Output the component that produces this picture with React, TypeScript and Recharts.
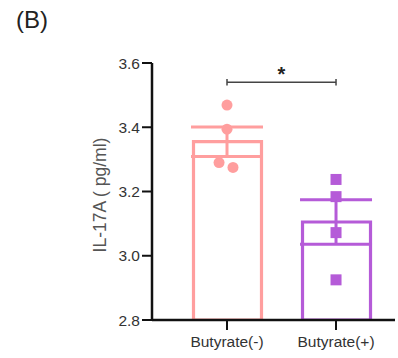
import React from 'react';
import {
  ComposedChart,
  Bar,
  Cell,
  Scatter,
  ErrorBar,
  XAxis,
  YAxis,
  ReferenceLine,
  ReferenceDot,
} from 'recharts';

const categories = ['Butyrate(-)', 'Butyrate(+)'];
const means = [3.355, 3.105];
const sems = [0.046, 0.069];
const yTicks = [2.8, 3.0, 3.2, 3.4, 3.6];

// individual samples (x = group position incl. jitter)
const minusPoints = [
  { x: 1, y: 3.469 },
  { x: 1, y: 3.394 },
  { x: 0.927, y: 3.29 },
  { x: 1.055, y: 3.275 },
];
const plusPoints = [
  { x: 2, y: 3.2375 },
  { x: 2, y: 3.184 },
  { x: 2, y: 3.072 },
  { x: 2, y: 2.925 },
];

const PINK = '#FF9E9E';
const PURPLE = '#B55BD8';
const FONT = '"Liberation Sans", Arial, sans-serif';
const X_DOMAIN = [0.312, 2.541];

const barData = categories.map((name, i) => ({ x: i + 1, name, mean: means[i] }));
const minusMean = [{ x: 1, y: means[0], err: sems[0] }];
const plusMean = [{ x: 2, y: means[1], err: sems[1] }];

const Dot = (props: any) => <circle cx={props.cx} cy={props.cy} r={5.5} fill={PINK} />;
const Square = (props: any) => (
  <rect x={props.cx - 5.5} y={props.cy - 5.5} width={11} height={11} fill={PURPLE} />
);
const Empty = () => <g />;

const YLabel = () => (
  <text
    x={100}
    y={195}
    transform="rotate(-90, 100, 195)"
    textAnchor="middle"
    dominantBaseline="central"
    fontSize={17.5}
    fill="#555"
    fontFamily={FONT}
  >
    IL-17A ( pg/ml)
  </text>
);

export default function App() {
  return (
    <div style={{ position: 'absolute', left: 0, top: 0, width: 398, height: 358, background: '#fff' }}>
      <div
        style={{
          position: 'absolute',
          left: 16,
          top: 6,
          fontSize: 24,
          fontFamily: FONT,
          color: '#222',
        }}
      >
        (B)
      </div>
      <ComposedChart
        width={398}
        height={358}
        data={barData}
        margin={{ top: 63, right: 3, bottom: 0, left: 0 }}
        style={{ fontFamily: FONT }}
      >
        <XAxis
          dataKey="x"
          type="number"
          domain={X_DOMAIN}
          ticks={[1, 2]}
          tickFormatter={(v: number) => categories[v - 1]}
          height={38}
          tickSize={10}
          tickMargin={6}
          axisLine={{ stroke: '#111', strokeWidth: 2.5 }}
          tickLine={{ stroke: '#111', strokeWidth: 2 }}
          tick={{ fill: '#333', fontSize: 15.5 }}
          allowDataOverflow
        />
        <XAxis xAxisId="pts" dataKey="x" type="number" domain={X_DOMAIN} hide allowDataOverflow />
        <YAxis
          type="number"
          domain={[2.8, 3.6]}
          ticks={yTicks}
          tickFormatter={(v: number) => v.toFixed(1)}
          width={152}
          tickSize={10}
          tickMargin={2}
          axisLine={{ stroke: '#111', strokeWidth: 2.5 }}
          tickLine={{ stroke: '#111', strokeWidth: 2 }}
          tick={{ fill: '#333', fontSize: 15.5 }}
          label={<YLabel />}
          allowDataOverflow
        />
        <Bar dataKey="mean" barSize={68} isAnimationActive={false} strokeWidth={3.2}>
          {barData.map((d, i) => (
            <Cell key={d.name} fill="#fff" stroke={i === 0 ? PINK : PURPLE} />
          ))}
        </Bar>
        <Scatter data={minusMean} dataKey="y" shape={Empty} isAnimationActive={false}>
          <ErrorBar dataKey="err" direction="y" width={36} stroke={PINK} strokeWidth={3} />
        </Scatter>
        <Scatter data={plusMean} dataKey="y" shape={Empty} isAnimationActive={false}>
          <ErrorBar dataKey="err" direction="y" width={36} stroke={PURPLE} strokeWidth={3} />
        </Scatter>
        <Scatter xAxisId="pts" data={minusPoints} dataKey="y" shape={Dot} isAnimationActive={false} />
        <Scatter xAxisId="pts" data={plusPoints} dataKey="y" shape={Square} isAnimationActive={false} />
        <ReferenceLine segment={[{ x: 1, y: 3.54 }, { x: 2, y: 3.54 }]} stroke="#444" strokeWidth={1.5} />
        <ReferenceLine segment={[{ x: 1, y: 3.53 }, { x: 1, y: 3.55 }]} stroke="#444" strokeWidth={1.5} />
        <ReferenceLine segment={[{ x: 2, y: 3.53 }, { x: 2, y: 3.55 }]} stroke="#444" strokeWidth={1.5} />
        <ReferenceDot
          x={1.5}
          y={3.567}
          r={0}
          fill="none"
          stroke="none"
          label={{ value: '*', position: 'center', fontSize: 20, fill: '#222', fontWeight: 'bold' }}
        />
      </ComposedChart>
    </div>
  );
}
